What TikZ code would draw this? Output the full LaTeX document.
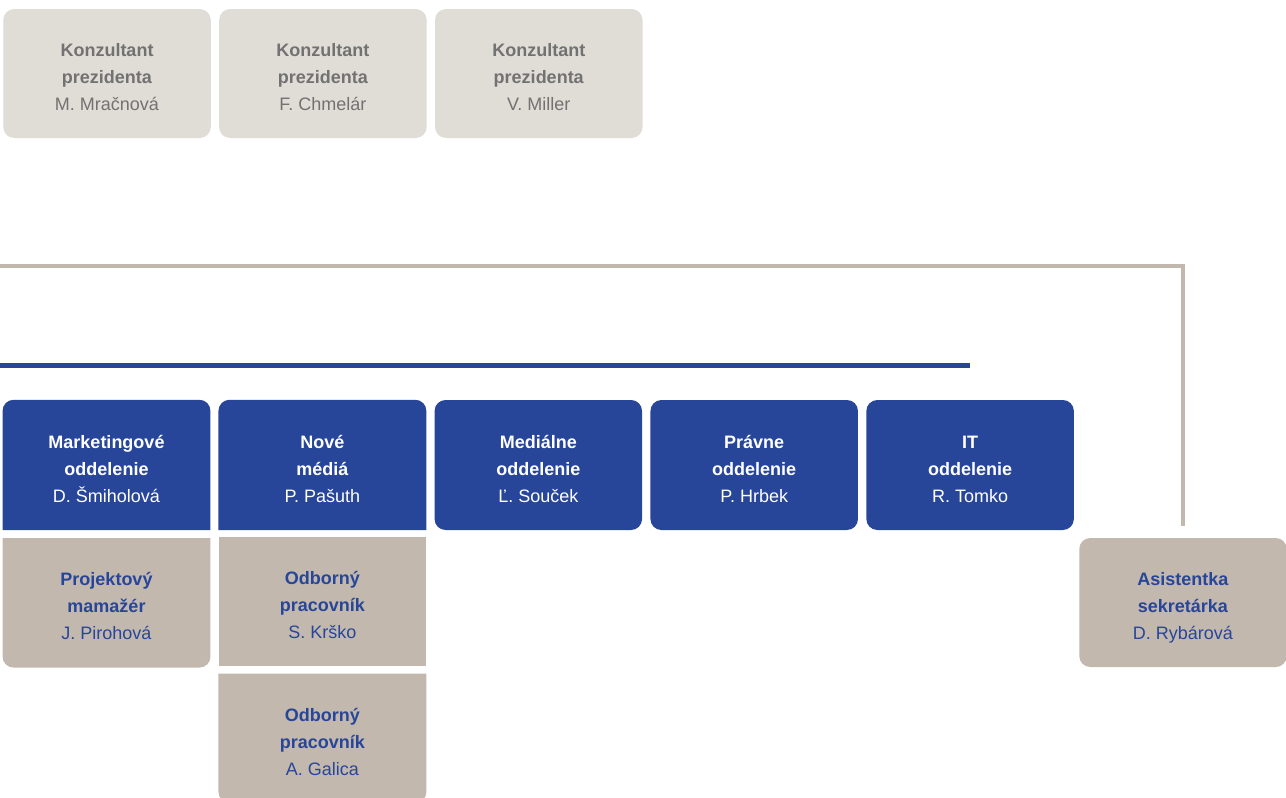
\documentclass[tikz,border=0pt]{standalone}
\usepackage{fontspec}
\setmainfont{Liberation Sans}
\usetikzlibrary{positioning,backgrounds}

\definecolor{orgblue}{HTML}{27469A}
\definecolor{orgtan}{HTML}{C2B8AD}
\definecolor{orglight}{HTML}{E0DCD6}
\definecolor{orggray}{HTML}{727272}

\begin{document}
\begin{tikzpicture}[x=1pt,y=-1pt]
    % --- DEFINE STYLES ---
    % Common box shape
    \tikzstyle{unit} = [rectangle, inner sep=0pt, minimum width=207.5pt, minimum height=130pt, align=center, text height=78pt, text depth=4pt, font=\fontsize{18}{27}\selectfont]
    % Advisors in the top row
    \tikzstyle{advisor} = [unit, minimum height=129pt, fill=orglight, rounded corners=11pt, text=orggray]
    % Departments (fill drawn separately where corners differ)
    \tikzstyle{dept} = [unit, text=white]
    \tikzstyle{dept_round} = [dept, fill=orgblue, rounded corners=11pt]
    % Staff under departments
    \tikzstyle{staff} = [unit, minimum height=129pt, text=orgblue]

    \useasboundingbox (0,0) rectangle (1286,798);

    % --- ADVISORS ---
    \node[advisor] (adv1) at (107,73.5) {\textbf{Konzultant}\\\textbf{prezidenta}\\M. Mračnová};
    \node[advisor, right=8pt of adv1] (adv2) {\textbf{Konzultant}\\\textbf{prezidenta}\\F. Chmelár};
    \node[advisor, right=8pt of adv2] (adv3) {\textbf{Konzultant}\\\textbf{prezidenta}\\V. Miller};

    % --- DEPARTMENTS ---
    \node[dept] (mkt) at (106.5,465) {\textbf{Marketingové}\\\textbf{oddelenie}\\D. Šmiholová};
    \node[dept, right=8pt of mkt] (media) {\textbf{Nové}\\\textbf{médiá}\\P. Pašuth};
    \node[dept_round, right=8pt of media] (press) {\textbf{Mediálne}\\\textbf{oddelenie}\\Ľ. Souček};
    \node[dept_round, right=8pt of press] (legal) {\textbf{Právne}\\\textbf{oddelenie}\\P. Hrbek};
    \node[dept_round, right=8pt of legal] (it) {\textbf{IT}\\\textbf{oddelenie}\\R. Tomko};

    % --- STAFF ---
    \node[staff, below=8pt of mkt] (pm) {\textbf{Projektový}\\\textbf{mamažér}\\J. Pirohová};
    \node[staff, fill=orgtan, below=7pt of media] (spec1) {\textbf{Odborný}\\\textbf{pracovník}\\S. Krško};
    \node[staff, below=7pt of spec1] (spec2) {\textbf{Odborný}\\\textbf{pracovník}\\A. Galica};
    \node[staff, fill=orgtan, rounded corners=11pt] (asst) at (1183,602.5) {\textbf{Asistentka}\\\textbf{sekretárka}\\D. Rybárová};

    % Boxes with rounded corners on one side only
    \begin{scope}[on background layer]
        % rounded on top
        \foreach \b in {mkt,media} {
            \fill[orgblue] (\b.south west) -- ([yshift=-11pt]\b.north west)
                arc[start angle=180, end angle=90, radius=11pt] -- ([xshift=-11pt]\b.north east)
                arc[start angle=90, end angle=0, radius=11pt] -- (\b.south east) -- cycle;
        }
        % rounded at the bottom
        \foreach \b in {pm,spec2} {
            \fill[orgtan] (\b.north west) -- ([yshift=11pt]\b.south west)
                arc[start angle=180, end angle=270, radius=11pt] -- ([xshift=-11pt]\b.south east)
                arc[start angle=270, end angle=360, radius=11pt] -- (\b.north east) -- cycle;
        }
    \end{scope}

    % --- CONNECTORS ---
    \coordinate (tanstart) at (0,266);
    \coordinate (bluestart) at (0,365);
    \draw[orgtan, line width=4pt] (tanstart) -- (tanstart -| asst) -- ([yshift=12pt]asst.north);
    \draw[orgblue, line width=5pt] (bluestart) -- (bluestart -| it);
\end{tikzpicture}
\end{document}
